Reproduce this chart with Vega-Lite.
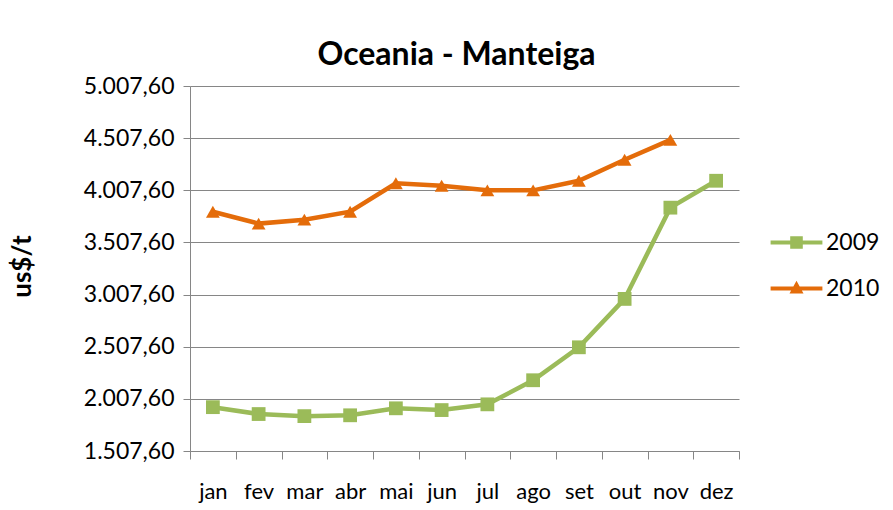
{
  "$schema": "https://vega.github.io/schema/vega-lite/v6.json",
  "width": 549,
  "height": 365,
  "autosize": "none",
  "padding": {"left": 190, "top": 86, "right": 154, "bottom": 59},
  "background": "white",
  "config": {
    "locale": {"number": {"decimal": ",", "thousands": ".", "grouping": [3], "currency": ["", ""]}},
    "font": "Lato",
    "view": {"stroke": null}
  },
  "title": {"text": "Oceania - Manteiga", "fontSize": 32, "fontWeight": "bold", "font": "Lato", "color": "#000000", "anchor": "middle", "offset": 3, "dx": -8},
  "data": {"values": [
    {"m": "jan", "year": "2009", "v": 1928}, {"m": "fev", "year": "2009", "v": 1862}, {"m": "mar", "year": "2009", "v": 1842},
    {"m": "abr", "year": "2009", "v": 1850}, {"m": "mai", "year": "2009", "v": 1917}, {"m": "jun", "year": "2009", "v": 1900},
    {"m": "jul", "year": "2009", "v": 1955}, {"m": "ago", "year": "2009", "v": 2186}, {"m": "set", "year": "2009", "v": 2502},
    {"m": "out", "year": "2009", "v": 2966}, {"m": "nov", "year": "2009", "v": 3841}, {"m": "dez", "year": "2009", "v": 4099},
    {"m": "jan", "year": "2010", "v": 3802}, {"m": "fev", "year": "2010", "v": 3688}, {"m": "mar", "year": "2010", "v": 3726},
    {"m": "abr", "year": "2010", "v": 3802}, {"m": "mai", "year": "2010", "v": 4075}, {"m": "jun", "year": "2010", "v": 4051},
    {"m": "jul", "year": "2010", "v": 4007}, {"m": "ago", "year": "2010", "v": 4007}, {"m": "set", "year": "2010", "v": 4099},
    {"m": "out", "year": "2010", "v": 4300}, {"m": "nov", "year": "2010", "v": 4491}
  ]},
  "encoding": {
    "x": {"field": "m", "type": "ordinal", "sort": ["jan","fev","mar","abr","mai","jun","jul","ago","set","out","nov","dez"],
      "scale": {"type": "band", "paddingInner": 0, "paddingOuter": 0},
      "axis": {"title": null, "labelAngle": 0, "tickBand": "extent", "grid": false, "domainColor": "#868686", "tickColor": "#868686", "tickSize": 8, "labelPadding": 22, "labelFontSize": 22, "labelColor": "#000000", "labelFont": "Lato"}},
    "y": {"field": "v", "type": "quantitative",
      "scale": {"domain": [1507.6, 5007.6], "nice": false, "zero": false},
      "axis": {"title": "us$/t", "titleFontSize": 26, "titleFontWeight": "bold", "titleColor": "#000000", "titleFont": "Lato", "titleX": -168, "titleY": 180, "titleAngle": -90, "titleAlign": "center", "titleBaseline": "middle",
        "values": [1507.6, 2007.6, 2507.6, 3007.6, 3507.6, 4007.6, 4507.6, 5007.6], "format": ",.2f",
        "labelFontSize": 23, "labelColor": "#000000", "labelFont": "Lato", "labelPadding": 9,
        "grid": true, "gridColor": "#868686", "gridWidth": 1, "domainColor": "#868686", "tickColor": "#868686", "tickSize": 7}},
    "color": {"field": "year", "type": "nominal", "scale": {"domain": ["2009", "2010"], "range": ["#9BBB59", "#E46C0A"]},
      "legend": {"title": null, "orient": "none", "legendX": 595, "legendY": 145, "symbolSize": 196, "labelOffset": 18, "labelFontSize": 23, "labelColor": "#000000", "labelFont": "Lato", "rowPadding": 22, "symbolStrokeWidth": 0, "symbolOpacity": 1,
        "symbolType": {"expr": "datum.value === '2009' ? 'M-3.7,-0.3H3.7V0.3H-3.7Z M-0.9,-0.9H0.9V0.9H-0.9Z' : 'M-3.7,-0.3H3.7V0.3H-3.7Z M0,-1.1L1,0.7H-1Z'"}}}
  },
  "layer": [
    {"mark": {"type": "line", "strokeWidth": 4.5}},
    {"transform": [{"filter": "datum.year === '2009'"}],
      "mark": {"type": "point", "filled": true, "opacity": 1, "size": 190, "shape": "square"}},
    {"transform": [{"filter": "datum.year === '2010'"}],
      "mark": {"type": "point", "filled": true, "opacity": 1, "size": 190, "shape": "triangle-up"}}
  ]
}
